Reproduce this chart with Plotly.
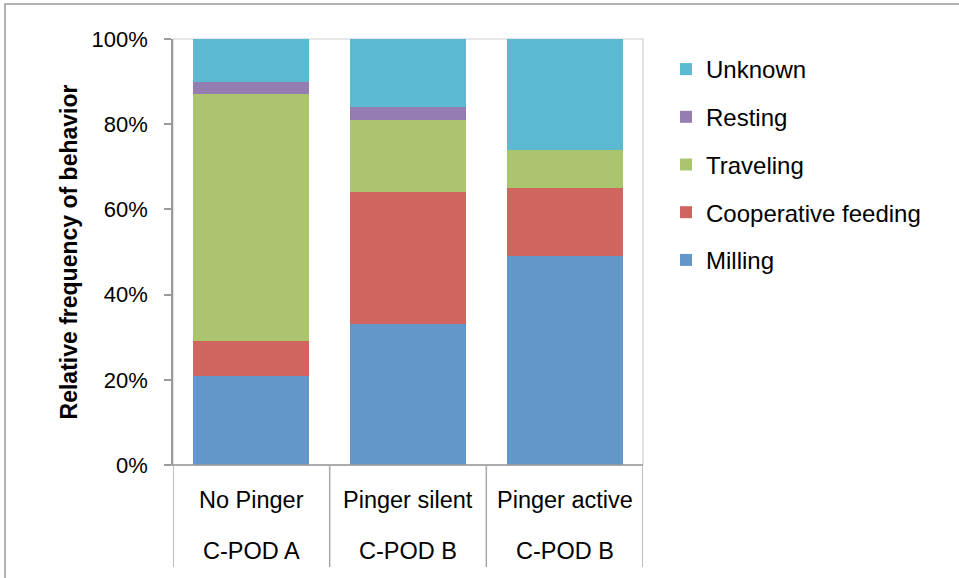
import plotly.graph_objects as go

# Behaviour shares (%) per recording condition
conditions = ["No Pinger", "Pinger silent", "Pinger active"]
detectors = ["C-POD A", "C-POD B", "C-POD B"]

milling = [21, 33, 49]
cooperative_feeding = [8, 31, 16]
traveling = [58, 17, 9]
resting = [3, 3, 0]
unknown = [10, 16, 26]

y_ticks = [0, 20, 40, 60, 80, 100]

series = [
    ("Milling", milling, "#6397CA"),
    ("Cooperative feeding", cooperative_feeding, "#D0645F"),
    ("Traveling", traveling, "#ABC46E"),
    ("Resting", resting, "#957CB1"),
    ("Unknown", unknown, "#5BB9D1"),
]

W, H = 959, 578
L, R, T, B = 173, 643, 39, 465  # plot area in pixels
pw, ph = R - L, B - T


def px_x(px):
    return (px - L) / pw


def px_y(py):
    return (B - py) / ph


FONT = "Liberation Sans"
AXIS_GRAY = "#9a9a9a"

fig = go.Figure()
n = len(series)
for k, (name, vals, color) in enumerate(series):
    fig.add_trace(go.Bar(
        x=conditions, y=vals, name=name,
        marker=dict(color=color, line=dict(width=0)),
        legendgroup=name, legendrank=1000 + (n - k),
    ))

shapes = []
# outer chart frame
shapes.append(dict(type="rect", xref="paper", yref="paper",
                   x0=px_x(5), x1=px_x(975), y0=px_y(4), y1=px_y(600),
                   line=dict(color="#9a9a9a", width=1.5), layer="below"))
# plot area border
shapes.append(dict(type="rect", xref="paper", yref="paper",
                   x0=0, x1=1, y0=0, y1=1,
                   line=dict(color="#cfcfcf", width=1.2), layer="below"))
# category axis baseline
shapes.append(dict(type="line", xref="paper", yref="paper",
                   x0=px_x(166), x1=1, y0=0, y1=0,
                   line=dict(color=AXIS_GRAY, width=1.5)))
# category dividers running down through both label rows
for i in range(len(conditions) + 1):
    shapes.append(dict(type="line", xref="x", yref="paper",
                       x0=i - 0.5, x1=i - 0.5, y0=0, y1=px_y(567),
                       line=dict(color="#a8a8a8", width=1.5)))

annotations = []
for c, d in zip(conditions, detectors):
    annotations.append(dict(x=c, y=px_y(500), xref="x", yref="paper",
                            text=c, showarrow=False, yanchor="middle",
                            font=dict(family=FONT, size=23.5, color="#000")))
    annotations.append(dict(x=c, y=px_y(551), xref="x", yref="paper",
                            text=d, showarrow=False, yanchor="middle",
                            font=dict(family=FONT, size=23.5, color="#000")))

fig.update_layout(
    width=W, height=H,
    margin=dict(l=L, r=W - R, t=T, b=H - B, pad=0),
    paper_bgcolor="white", plot_bgcolor="white",
    barmode="stack", bargap=0.26,
    font=dict(family=FONT, color="#000"),
    shapes=shapes, annotations=annotations,
    showlegend=True,
    legend=dict(
        x=px_x(666), xanchor="left", y=px_y(47), yanchor="top",
        traceorder="grouped", tracegroupgap=13.5,
        font=dict(family=FONT, size=24, color="#000"),
        bgcolor="rgba(0,0,0,0)",
    ),
    xaxis=dict(
        type="category", range=[-0.5, len(conditions) - 0.5],
        showticklabels=False, ticks="", showline=False,
        showgrid=False, zeroline=False, fixedrange=True,
    ),
    yaxis=dict(
        range=[0, 100], tickvals=y_ticks,
        ticktext=[f"{v}%" for v in y_ticks],
        ticks="outside", ticklen=7, tickwidth=1.5, tickcolor=AXIS_GRAY,
        ticklabelstandoff=12,
        showline=True, linecolor=AXIS_GRAY, linewidth=1.5,
        showgrid=False, zeroline=False,
        tickfont=dict(family=FONT, size=22, color="#000"),
        title=dict(text="<b>Relative frequency of behavior</b>",
                   font=dict(family=FONT, size=23, color="#000"), standoff=8),
    ),
)

fig.write_html("out.html")
